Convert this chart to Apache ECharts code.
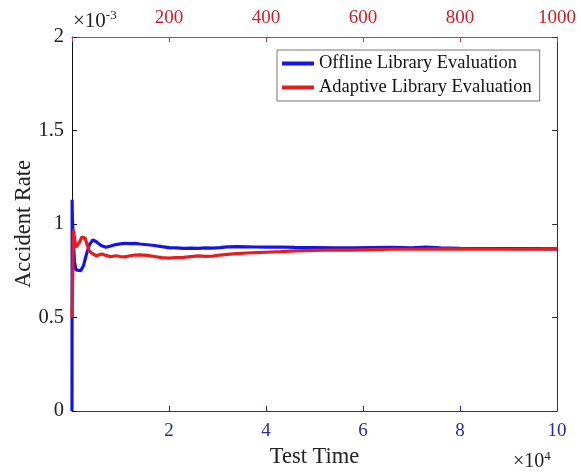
<!DOCTYPE html>
<html>
<head>
<meta charset="utf-8">
<script src="https://cdn.jsdelivr.net/npm/echarts@6/dist/echarts.min.js"></script>
<style>
html,body{margin:0;padding:0;background:#fff;}
#chart{width:581px;height:473px;}
</style>
</head>
<body>
<div id="chart"></div>
<script>
// Offline library evaluation: test time (x10^4) vs accident rate (x10^-3)
var offlineTime = [0, 0.003, 0.006, 0.02, 0.05, 0.08, 0.12, 0.18, 0.24, 0.3, 0.36, 0.43, 0.5, 0.6, 0.7, 0.8, 0.9, 1.0, 1.1, 1.2, 1.3, 1.4, 1.55, 1.7, 1.85, 2.0, 2.15, 2.3, 2.45, 2.6, 2.75, 2.9, 3.05, 3.2, 3.4, 3.6, 3.8, 4.0, 4.3, 4.6, 5.0, 5.4, 5.8, 6.2, 6.6, 7.0, 7.3, 7.6, 8.0, 8.4, 8.8, 9.2, 9.6, 10];
var offlineRate = [0, 1.13, 1.05, 0.95, 0.80, 0.755, 0.745, 0.75, 0.78, 0.84, 0.89, 0.915, 0.905, 0.885, 0.876, 0.882, 0.89, 0.894, 0.897, 0.895, 0.896, 0.893, 0.889, 0.885, 0.879, 0.874, 0.872, 0.870, 0.871, 0.870, 0.872, 0.871, 0.874, 0.878, 0.879, 0.878, 0.877, 0.876, 0.877, 0.875, 0.874, 0.872, 0.873, 0.874, 0.875, 0.873, 0.876, 0.872, 0.870, 0.869, 0.869, 0.868, 0.868, 0.867];
// Adaptive library evaluation: test time (hundreds, top axis x10) vs accident rate (x10^-3)
var adaptiveTime = [0, 0.3, 0.5, 0.8, 1.2, 1.6, 2.0, 2.3, 2.7, 3.1, 3.5, 3.9, 4.4, 5.0, 5.6, 6.2, 7.0, 8.0, 9.0, 10, 11, 12, 13, 14, 15.5, 17, 18.5, 20, 21.5, 23, 24.5, 26, 27.5, 29, 30.5, 32, 34, 36, 38, 40, 43, 46, 50, 54, 58, 62, 66, 70, 74, 78, 82, 86, 90, 95, 100];
var adaptiveRate = [0.5, 0.97, 0.93, 0.875, 0.875, 0.905, 0.93, 0.94, 0.925, 0.89, 0.86, 0.848, 0.838, 0.83, 0.835, 0.84, 0.832, 0.825, 0.83, 0.826, 0.824, 0.83, 0.834, 0.835, 0.832, 0.826, 0.82, 0.818, 0.82, 0.822, 0.826, 0.83, 0.827, 0.828, 0.834, 0.838, 0.842, 0.845, 0.847, 0.849, 0.852, 0.856, 0.859, 0.861, 0.860, 0.863, 0.865, 0.865, 0.866, 0.867, 0.866, 0.866, 0.865, 0.866, 0.866];

var bottomTicks = [0, 2, 4, 6, 8, 10];
var topTicks = [0, 200, 400, 600, 800, 1000];
var yTicks = [0, 0.5, 1, 1.5, 2];

function pairs(xs, ys) { return xs.map(function (x, i) { return [x, ys[i]]; }); }

var FONT = '"Liberation Serif", "Times New Roman", serif';
var chart = echarts.init(document.getElementById('chart'), null, {renderer: 'canvas'});
chart.setOption({
  animation: false,
  backgroundColor: '#fff',
  grid: {left: 72, right: 24, top: 37, bottom: 62, containLabel: false, outerBoundsMode: 'none'},
  textStyle: {fontFamily: FONT},
  xAxis: [
    {
      type: 'value', position: 'bottom', min: bottomTicks[0], max: bottomTicks[bottomTicks.length - 1], interval: 2,
      axisLine: {show: true, onZero: false, lineStyle: {color: '#2b2b9c', width: 1}},
      axisTick: {show: true, inside: true, length: 5, lineStyle: {color: '#2b2b9c'}},
      axisLabel: {color: '#2a2aa0', fontSize: 19, fontFamily: FONT, margin: 11,
        formatter: function (v) { return v === 0 ? '' : String(v); }},
      splitLine: {show: false},
      name: 'Test Time', nameLocation: 'middle', nameGap: 35, nameMoveOverlap: false,
      nameTextStyle: {color: '#222', fontSize: 22.5, fontFamily: FONT}
    },
    {
      type: 'value', position: 'top', min: topTicks[0], max: topTicks[topTicks.length - 1], interval: 200,
      axisLine: {show: true, onZero: false, lineStyle: {color: '#c0404a', width: 1}},
      axisTick: {show: true, inside: true, length: 5, lineStyle: {color: '#c0404a'}},
      axisLabel: {color: '#c8202a', fontSize: 19, fontFamily: FONT, margin: 9,
        formatter: function (v) { return v === 0 ? '' : String(v); }},
      splitLine: {show: false}
    }
  ],
  yAxis: [
    {
      type: 'value', position: 'left', min: yTicks[0], max: yTicks[yTicks.length - 1], interval: 0.5,
      axisLine: {show: true, onZero: false, lineStyle: {color: '#111', width: 1}},
      axisTick: {show: true, inside: true, length: 5, lineStyle: {color: '#111'}},
      axisLabel: {color: '#222', fontSize: 20.5, fontFamily: FONT, margin: 8},
      splitLine: {show: false},
      name: 'Accident Rate', nameLocation: 'middle', nameGap: 36, nameMoveOverlap: false,
      nameTextStyle: {color: '#222', fontSize: 22.5, fontFamily: FONT}
    },
    {
      type: 'value', position: 'right', min: yTicks[0], max: yTicks[yTicks.length - 1], interval: 0.5,
      axisLine: {show: true, onZero: false, lineStyle: {color: '#333', width: 1}},
      axisTick: {show: true, inside: true, length: 5, lineStyle: {color: '#333'}},
      axisLabel: {show: false},
      splitLine: {show: false}
    }
  ],
  legend: {
    orient: 'vertical', left: 277, top: 50,
    backgroundColor: '#fff', borderColor: '#777', borderWidth: 1,
    padding: [4, 8, 4, 5], itemGap: 5, itemWidth: 32, itemHeight: 4,
    icon: 'rect',
    textStyle: {fontSize: 18.5, fontFamily: FONT, color: '#111', padding: [0, 0, 0, 0]},
    data: ['Offline Library Evaluation', 'Adaptive Library Evaluation']
  },
  series: [
    {
      name: 'Offline Library Evaluation', type: 'line', xAxisIndex: 0, yAxisIndex: 0,
      data: pairs(offlineTime, offlineRate), showSymbol: false, symbol: 'none',
      lineStyle: {color: '#1414e6', width: 3.2}, itemStyle: {color: '#1414e6'}
    },
    {
      name: 'Adaptive Library Evaluation', type: 'line', xAxisIndex: 1, yAxisIndex: 0,
      data: pairs(adaptiveTime.map(function (t) { return t * 10; }), adaptiveRate), showSymbol: false, symbol: 'none',
      lineStyle: {color: '#e81c1c', width: 3.2}, itemStyle: {color: '#e81c1c'}
    }
  ],
  graphic: [
    {type: 'text', left: 73, top: 9, style: {
      text: '{a|×10}{s|-3}', fill: '#222',
      rich: {a: {fontSize: 21, fontFamily: FONT, fill: '#222', verticalAlign: 'bottom'},
             s: {fontSize: 13, fontFamily: FONT, fill: '#222', verticalAlign: 'top', padding: [0, 0, 10, 0]}}
    }},
    {type: 'text', left: 513, top: 450, style: {
      text: '{a|×10}{s|4}', fill: '#222',
      rich: {a: {fontSize: 20, fontFamily: FONT, fill: '#222'},
             s: {fontSize: 13, fontFamily: FONT, fill: '#222', padding: [0, 0, 10, 0]}}
    }}
  ]
});
</script>
</body>
</html>
